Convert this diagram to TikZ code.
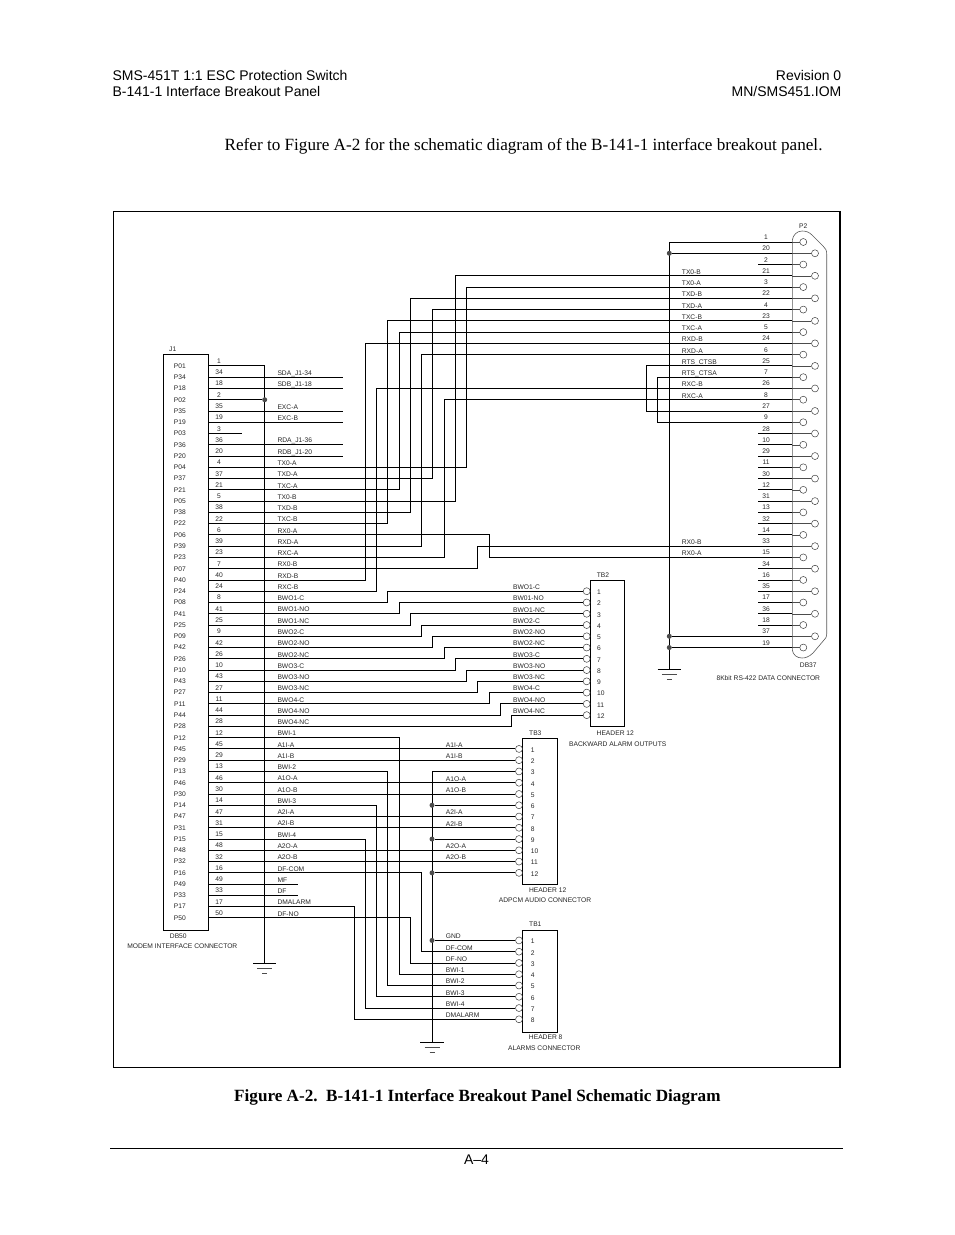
\documentclass[tikz,border=0pt]{standalone}
\usepackage{fontspec}
\setmainfont{Liberation Sans}
\newfontfamily\pageserif{Liberation Serif}
\tikzset{
  wire/.style={line width=0.9pt},
  thinwire/.style={line width=0.5pt,black!70},
  shell/.style={line width=0.6pt,black!65},
  lab/.style={inner sep=0pt,font=\fontsize{6.7}{8}\selectfont,black!85},
  sig/.style={lab,anchor=base west},
  pinc/.style={circle,draw,line width=0.5pt,black!75,minimum size=7pt,inner sep=0pt},
  dot/.style={circle,fill=black!70,minimum size=5pt,inner sep=0pt},
  tbbox/.style={draw,line width=0.9pt,anchor=north west,inner sep=0pt},
  head/.style={inner sep=0pt,font=\fontsize{14}{16}\selectfont},
  serifline/.style={inner sep=0pt,anchor=base west,font=\pageserif\fontsize{17.14}{19}\selectfont},
}
\newcommand{\wire}[3]{\draw[wire] (#1) -- (#2,0 |- #1) -- (#2,0 |- #3) -- (#3);}
\newcommand{\gndsym}[1]{
  \draw[wire] ([xshift=-11.7pt]#1) -- ([xshift=11.7pt]#1);
  \draw[wire,black!70] ([xshift=-7.5pt,yshift=-5pt]#1) -- ([xshift=7.5pt,yshift=-5pt]#1);
  \draw[wire,black!70] ([xshift=-2.5pt,yshift=-10pt]#1) -- ([xshift=2.5pt,yshift=-10pt]#1);
}
\begin{document}
\begin{tikzpicture}[x=1pt,y=-1pt]
\useasboundingbox (0,0) rectangle (954,1235);
%% Page text
\node[head,anchor=base west] (title1) at (112.3,80) {SMS-451T 1:1 ESC Protection Switch};
\node[head,anchor=base west] (title2) at (112.3,96) {B-141-1 Interface Breakout Panel};
\node[head,anchor=base east] (rev1) at (841.5,80) {Revision 0};
\node[head,anchor=base east] (rev2) at (841.5,96) {MN/SMS451.IOM};
\node[serifline] (intro) at (224.5,150.3)
  {Refer to Figure A-2 for the schematic diagram of the B-141-1 interface breakout panel.};
\node[serifline,font=\pageserif\bfseries\fontsize{17.14}{19}\selectfont] (caption) at (234,1101.5)
  {Figure A-2.\ \ B-141-1 Interface Breakout Panel Schematic Diagram};
\node[head,anchor=base] (pageno) at (476.5,1164.5) {A–4};
\draw[line width=1pt] (110,1148.3) -- (843.3,1148.3);
%% Frame
\draw[line width=1pt] (840,1067.3) -- (113.3,1067.3) -- (113.3,211.3) -- (840,211.3);
\draw[line width=1.7pt] (840,210.8) -- (840,1067.8);
%% J1 connector
\node[tbbox,minimum width=45pt,minimum height=576pt] (J1box) at (163.3,354.3) {};
\node[lab] (J1name) at (172.7,349.7) {J1};
\node[lab] (DB50) at (178.3,936.3) {DB50};
\node[lab] (J1title) at (182.3,946.3) {MODEM INTERFACE CONNECTOR};
\foreach \pin/\pname [count=\k from 11] in {1/P01,34/P34,18/P18,2/P02,35/P35,19/P19,3/P03,36/P36,20/P20,
  4/P04,37/P37,21/P21,5/P05,38/P38,22/P22,6/P06,39/P39,23/P23,7/P07,40/P40,24/P24,8/P08,41/P41,25/P25,
  9/P09,42/P42,26/P26,10/P10,43/P43,27/P27,11/P11,44/P44,28/P28,12/P12,45/P45,29/P29,13/P13,46/P46,30/P30,
  14/P14,47/P47,31/P31,15/P15,48/P48,32/P32,16/P16,49/P49,33/P33,17/P17,50/P50}{
  \pgfmathsetmacro\yy{242+11.265*\k}
  \coordinate (J\pin) at (208.3,\yy);
  \node[lab] (Jn\pin) at (179.8,\yy) {\pname};
  \node[lab,anchor=base] (Jp\pin) at (219,\yy-2.5) {\pin};
}
\foreach \pin/\sig in {34/SDA\_J1-34,18/SDB\_J1-18,35/EXC-A,19/EXC-B,36/RDA\_J1-36,20/RDB\_J1-20,
  4/TX0-A,37/TXD-A,21/TXC-A,5/TX0-B,38/TXD-B,22/TXC-B,6/RX0-A,39/RXD-A,23/RXC-A,7/RX0-B,40/RXD-B,24/RXC-B,
  8/BWO1-C,41/BWO1-NO,25/BWO1-NC,9/BWO2-C,42/BWO2-NO,26/BWO2-NC,10/BWO3-C,43/BWO3-NO,27/BWO3-NC,
  11/BWO4-C,44/BWO4-NO,28/BWO4-NC,12/BWI-1,45/A1I-A,29/A1I-B,13/BWI-2,46/A1O-A,30/A1O-B,14/BWI-3,
  47/A2I-A,31/A2I-B,15/BWI-4,48/A2O-A,32/A2O-B,16/DF-COM,49/MF,33/DF,17/DMALARM,50/DF-NO}{
  \node[sig] (Js\pin) at ([xshift=69pt,yshift=1.8pt]J\pin) {\sig};
}
%% J1 free ends
\foreach \pin/\xend in {34/342.7,18/342.7,35/342.7,19/342.7,36/342.7,20/342.7,3/241.7,49/297.7,33/297.7}{
  \coordinate (X\pin) at (\xend,0 |- J\pin);
  \draw[wire] (J\pin) -- (X\pin);
}
%% J1 ground bus
\coordinate (G1) at (264.7,963.3);
\draw[wire] (J1) -| (G1);
\node[dot] (D2) at (264.7,0 |- J2) {};
\draw[wire] (J2) -- (D2);
\gndsym{G1}
%% P2 connector
\draw[shell] (792.3,240) .. controls (793,235) and (797,231) .. (802,231)
  .. controls (806,231) and (809,232) .. (812,235) -- (823,246)
  .. controls (825.5,248.5) and (826.7,250) .. (826.7,254) -- (826.7,634)
  .. controls (826.7,637) and (826,638) .. (824,640) -- (813,653)
  .. controls (809,657) and (805,658) .. (802,658)
  .. controls (797,658) and (793,655) .. (792.3,650) -- cycle;
\node[lab] (P2name) at (803.3,225.7) {P2};
\node[lab] (DB37) at (808.3,665) {DB37};
\node[lab] (P2title) at (768.3,678.3) {8Kbit RS-422 DATA CONNECTOR};
\foreach \pin/\cx [count=\k from 0] in {1/803.3,20/815,2/803.3,21/815,3/803.3,22/815,4/803.3,23/815,5/803.3,24/815,
  6/803.3,25/815,7/803.3,26/815,8/803.3,27/815,9/803.3,28/815,10/803.3,29/815,11/803.3,30/815,12/803.3,31/815,
  13/803.3,32/815,14/803.3,33/815,15/803.3,34/815,16/803.3,35/815,17/803.3,36/815,18/803.3,37/815,19/803.3}{
  \pgfmathsetmacro\yy{242+11.265*\k}
  \coordinate (E\pin) at (792.3,\yy);
  \node[pinc] (P\pin) at (\cx,\yy) {};
  \draw[thinwire] (E\pin) -- (P\pin);
  \node[lab,anchor=base] (Pp\pin) at (766,\yy-2.5) {\pin};
}
\foreach \pin/\sig in {21/TX0-B,3/TX0-A,22/TXD-B,4/TXD-A,23/TXC-B,5/TXC-A,24/RXD-B,6/RXD-A,
  25/RTS\_CTSB,7/RTS\_CTSA,26/RXC-B,8/RXC-A,33/RX0-B,15/RX0-A}{
  \node[sig] (Ps\pin) at ([xshift=-110.6pt,yshift=1.5pt]E\pin) {\sig};
}
%% P2 free ends
\foreach \pin in {2,28,10,29,11,30,12,31,13,32,14,34,16,35,17,36,18}{
  \coordinate (Y\pin) at (758.3,0 |- E\pin);
  \draw[wire] (Y\pin) -- (E\pin);
}
%% P2 ground bus
\coordinate (G3) at (669.3,669.3);
\draw[wire] (E1) -| (G3);
\foreach \pin in {20,37,19}{
  \node[dot] (Dp\pin) at (669.3,0 |- E\pin) {};
  \draw[wire] (Dp\pin) -- (E\pin);
}
\gndsym{G3}
%% J1 to P2
\foreach \from/\cx/\to in {J5/455.3/E21,J4/466.3/E3,J38/410.3/E22,J37/432.3/E4,J22/387.3/E23,J21/399.3/E5,
  J40/365.3/E24,J39/421.3/E6,J24/376.3/E26,J23/444.3/E8,J6/489.3/E15,J7/477.3/E33,
  E25/646.7/E27,E7/657.3/E9}{
  \wire{\from}{\cx}{\to}
}
%% TB2
\node[tbbox,minimum width=34pt,minimum height=146pt] (TB2) at (590.3,580.3) {};
\node[lab] (TB2name) at (603,574.7) {TB2};
\node[lab] (TB2head) at (615.3,733.3) {HEADER 12};
\node[lab] (TB2title) at (617.7,744.3) {BACKWARD ALARM OUTPUTS};
\foreach \n/\sig [count=\k from 31] in {1/BWO1-C,2/BW01-NO,3/BWO1-NC,4/BWO2-C,5/BWO2-NO,6/BWO2-NC,
  7/BWO3-C,8/BWO3-NO,9/BWO3-NC,10/BWO4-C,11/BWO4-NO,12/BWO4-NC}{
  \pgfmathsetmacro\yy{242+11.265*\k}
  \node[pinc] (B\n) at (586.7,\yy) {};
  \node[lab,anchor=west] (Bp\n) at (597,\yy+1) {\n};
  \node[sig] (Bs\n) at (513,\yy-1.7) {\sig};
}
\foreach \from/\cx/\to in {J8/387.3/B1,J41/399.3/B2,J25/410.3/B3,J9/421.3/B4,J42/432.3/B5,J26/444.3/B6,
  J10/455.3/B7,J43/466.3/B8,J27/477.3/B9,J11/489.3/B10,J44/500.3/B11,J28/511.3/B12}{
  \wire{\from}{\cx}{\to}
}
%% TB3
\node[tbbox,minimum width=34.4pt,minimum height=146.6pt] (TB3) at (522.3,737.7) {};
\node[lab] (TB3name) at (535.3,733.3) {TB3};
\node[lab] (TB3head) at (547.7,890.3) {HEADER 12};
\node[lab] (TB3title) at (545,900.3) {ADPCM AUDIO CONNECTOR};
\foreach \n [count=\k from 45] in {1,...,12}{
  \pgfmathsetmacro\yy{242+11.265*\k}
  \node[pinc] (A\n) at (519,\yy) {};
  \node[lab,anchor=west] (Ap\n) at (530.7,\yy+1) {\n};
}
\foreach \n/\sig in {1/A1I-A,2/A1I-B,4/A1O-A,5/A1O-B,7/A2I-A,8/A2I-B,10/A2O-A,11/A2O-B}{
  \node[sig] (As\n) at ([xshift=-73.3pt,yshift=1.7pt]A\n.center) {\sig};
}
\foreach \from/\to in {J45/A1,J29/A2,J46/A4,J30/A5,J47/A7,J31/A8,J48/A10,J32/A11}{
  \draw[wire] (\from) -- (\to);
}
%% TB1
\node[tbbox,minimum width=34.4pt,minimum height=101.4pt] (TB1) at (522.3,930.3) {};
\node[lab] (TB1name) at (535.3,924.3) {TB1};
\node[lab] (TB1head) at (545.7,1037) {HEADER 8};
\node[lab] (TB1title) at (544.3,1048.3) {ALARMS CONNECTOR};
\foreach \n/\sig [count=\k from 62] in {1/GND,2/DF-COM,3/DF-NO,4/BWI-1,5/BWI-2,6/BWI-3,7/BWI-4,8/DMALARM}{
  \pgfmathsetmacro\yy{242+11.265*\k}
  \node[pinc] (F\n) at (519,\yy) {};
  \node[lab,anchor=west] (Fp\n) at (530.7,\yy+1) {\n};
  \node[sig] (Fs\n) at (445.7,\yy-1.7) {\sig};
}
\foreach \from/\cx/\to in {J16/421.3/F2,J50/410.3/F3,J12/399.3/F4,J13/387.3/F5,J14/376.3/F6,J15/365.3/F7,J17/354.3/F8}{
  \wire{\from}{\cx}{\to}
}
%% TB ground bus
\coordinate (G2) at (432,1042);
\draw[wire] (A3) -| (G2);
\foreach \to in {A6,A9,A12,F1}{
  \node[dot] (Dt\to) at (432,0 |- \to) {};
  \draw[wire] (Dt\to) -- (\to);
}
\gndsym{G2}
\end{tikzpicture}
\end{document}
